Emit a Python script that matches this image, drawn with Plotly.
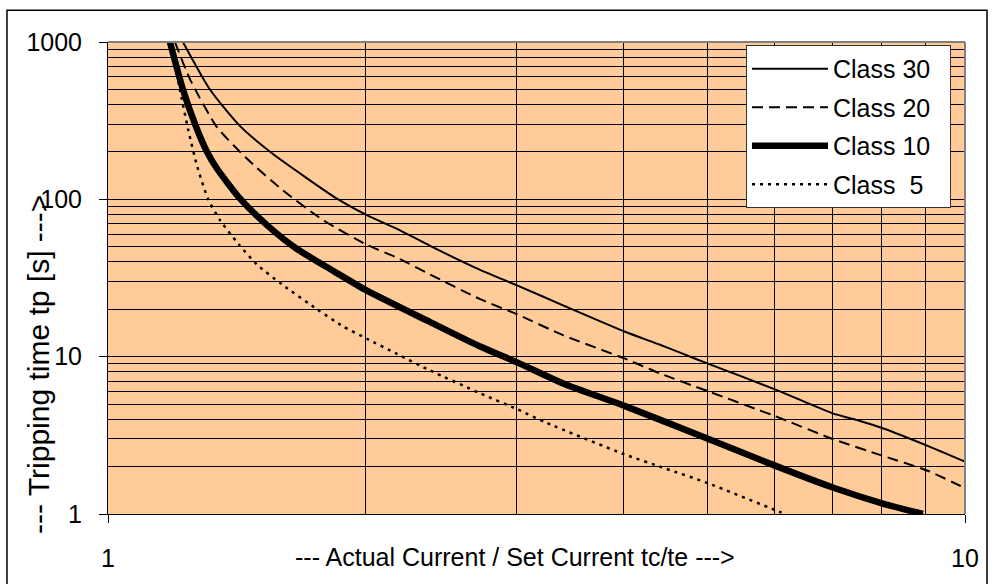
import plotly.graph_objects as go

# ---- data ----
class30_x = [1.223, 1.315, 1.426, 1.558, 1.707, 1.850, 2.005, 2.192, 2.376, 2.718, 3.001,
             3.396, 4.012, 4.407, 4.651, 5.012, 6.002, 6.996, 7.542, 8.003, 9.031, 10.0]
class30_y = [1000, 499, 292, 194, 136, 101, 79.3, 63.5, 50.6, 35.6, 28.4,
             21.2, 14.4, 11.9, 10.6, 9.03, 6.20, 4.38, 3.90, 3.52, 2.72, 2.15]

class20_x = [1.197, 1.247, 1.340, 1.453, 1.600, 1.782, 2.005, 2.174, 2.376, 2.718, 3.001,
             3.396, 4.012, 4.407, 5.012, 6.002, 6.996, 8.003, 9.031, 10.0]
class20_y = [1000, 577, 288, 181, 114, 73.8, 51.4, 42.6, 33.3, 23.2, 18.6,
             13.7, 9.71, 7.82, 6.03, 4.19, 3.01, 2.35, 1.89, 1.46]

class10_x = [1.181, 1.223, 1.270, 1.305, 1.340, 1.426, 1.533, 1.660, 1.830, 2.000,
             2.376, 2.718, 3.001, 3.396, 4.012, 5.012, 6.002, 6.996, 8.003, 8.930]
class10_y = [1000, 499, 280, 200, 157, 101, 68.6, 48.5, 35.2, 26.5,
             16.6, 11.6, 9.2, 6.76, 4.85, 3.01, 2.03, 1.48, 1.17, 1.0]

class5_x = [1.184, 1.213, 1.240, 1.270, 1.308, 1.351, 1.420, 1.492, 1.596, 1.754, 1.880,
            2.005, 2.174, 2.376, 2.718, 3.001, 3.253, 4.000, 4.467, 5.012, 6.002, 6.166]
class5_y = [1000, 499, 280, 164, 101, 73.8, 52.0, 38.5, 28.8, 20.0, 15.6,
            13.0, 10.4, 8.17, 5.85, 4.64, 3.79, 2.40, 1.95, 1.57, 1.06, 1.0]

series_names = ["Class 30", "Class 20", "Class 10", "Class\u00a0\u00a05"]

x_title = "--- Actual Current / Set Current tc/te --->"
y_title = "--- Tripping time tp [s] --->"

FONT = "Liberation Sans, Arial, sans-serif"

fig = go.Figure()
styles = [
    dict(width=2.0, dash="solid"),
    dict(width=2.0, dash="11px,6px"),
    dict(width=6.5, dash="solid"),
    dict(width=2.5, dash="3px,5px"),
]
data = [(class30_x, class30_y), (class20_x, class20_y), (class10_x, class10_y), (class5_x, class5_y)]
for i, ((xs, ys), name, st) in enumerate(zip(data, series_names, styles)):
    fig.add_trace(go.Scatter(
        x=xs, y=ys, mode="lines", name=name + "\u00a0\u00a0", legendgroup=str(i),
        line=dict(color="black", width=st["width"], dash=st["dash"], shape="spline", smoothing=0.6),
    ))

W, H = 994, 584
L, R, T, B = 108, 965, 42, 519
pw, ph = R - L, B - T

def px(x):
    return (x - L) / pw

def py(y):
    return (B - y) / ph

fig.update_layout(
    width=W, height=H,
    margin=dict(l=L, r=W - R, t=T, b=H - B, pad=0),
    paper_bgcolor="white",
    plot_bgcolor="#FFCC99",
    font=dict(family=FONT, size=25, color="black"),
    showlegend=True,
    legend=dict(
        x=px(746), xanchor="left", y=py(45), yanchor="top",
        bgcolor="white", bordercolor="#333333", borderwidth=1,
        font=dict(family=FONT, size=25, color="black"),
        traceorder="grouped", tracegroupgap=3,
        itemwidth=76,
    ),
)

fig.update_xaxes(
    type="log", range=[0, 1], dtick=1,
    showgrid=True, gridcolor="black", gridwidth=1,
    minor=dict(dtick="D1", showgrid=True, gridcolor="black", gridwidth=1, ticks=""),
    showline=True, linecolor="black", linewidth=1,
    ticks="outside", ticklen=8, tickcolor="black",
    ticklabelstandoff=14, tickfont=dict(size=25),
    zeroline=False,
)
fig.update_yaxes(
    type="log", range=[0, 3], dtick=1,
    showgrid=True, gridcolor="black", gridwidth=1,
    minor=dict(dtick="D1", showgrid=True, gridcolor="black", gridwidth=1, ticks=""),
    showline=True, linecolor="black", linewidth=1,
    ticks="outside", ticklen=8, tickcolor="black",
    ticklabelstandoff=12, tickfont=dict(size=25),
    zeroline=False,
)

# plot-area border (top and right, grey) and outer chart border
fig.add_shape(type="line", xref="paper", yref="paper", x0=0, x1=1, y0=1, y1=1,
              line=dict(color="#808080", width=2), layer="above")
fig.add_shape(type="line", xref="paper", yref="paper", x0=1, x1=1, y0=0, y1=1,
              line=dict(color="#808080", width=2), layer="above")
fig.add_shape(type="rect", xref="paper", yref="paper",
              x0=px(7), x1=px(987), y0=py(600), y1=py(10),
              line=dict(color="black", width=1.5), fillcolor="rgba(0,0,0,0)", layer="above")

fig.add_annotation(text=x_title, xref="paper", yref="paper", x=px(515), y=py(562),
                   xanchor="center", yanchor="middle", showarrow=False,
                   font=dict(family=FONT, size=25, color="black"))
fig.add_annotation(text=y_title, xref="paper", yref="paper", x=px(39), y=py(195),
                   xanchor="center", yanchor="top", showarrow=False, textangle=-90,
                   font=dict(family=FONT, size=30, color="black"))

fig.write_html("out.html", config={"displayModeBar": False},
               post_script="document.body.style.margin='0';document.body.style.overflow='hidden';")
